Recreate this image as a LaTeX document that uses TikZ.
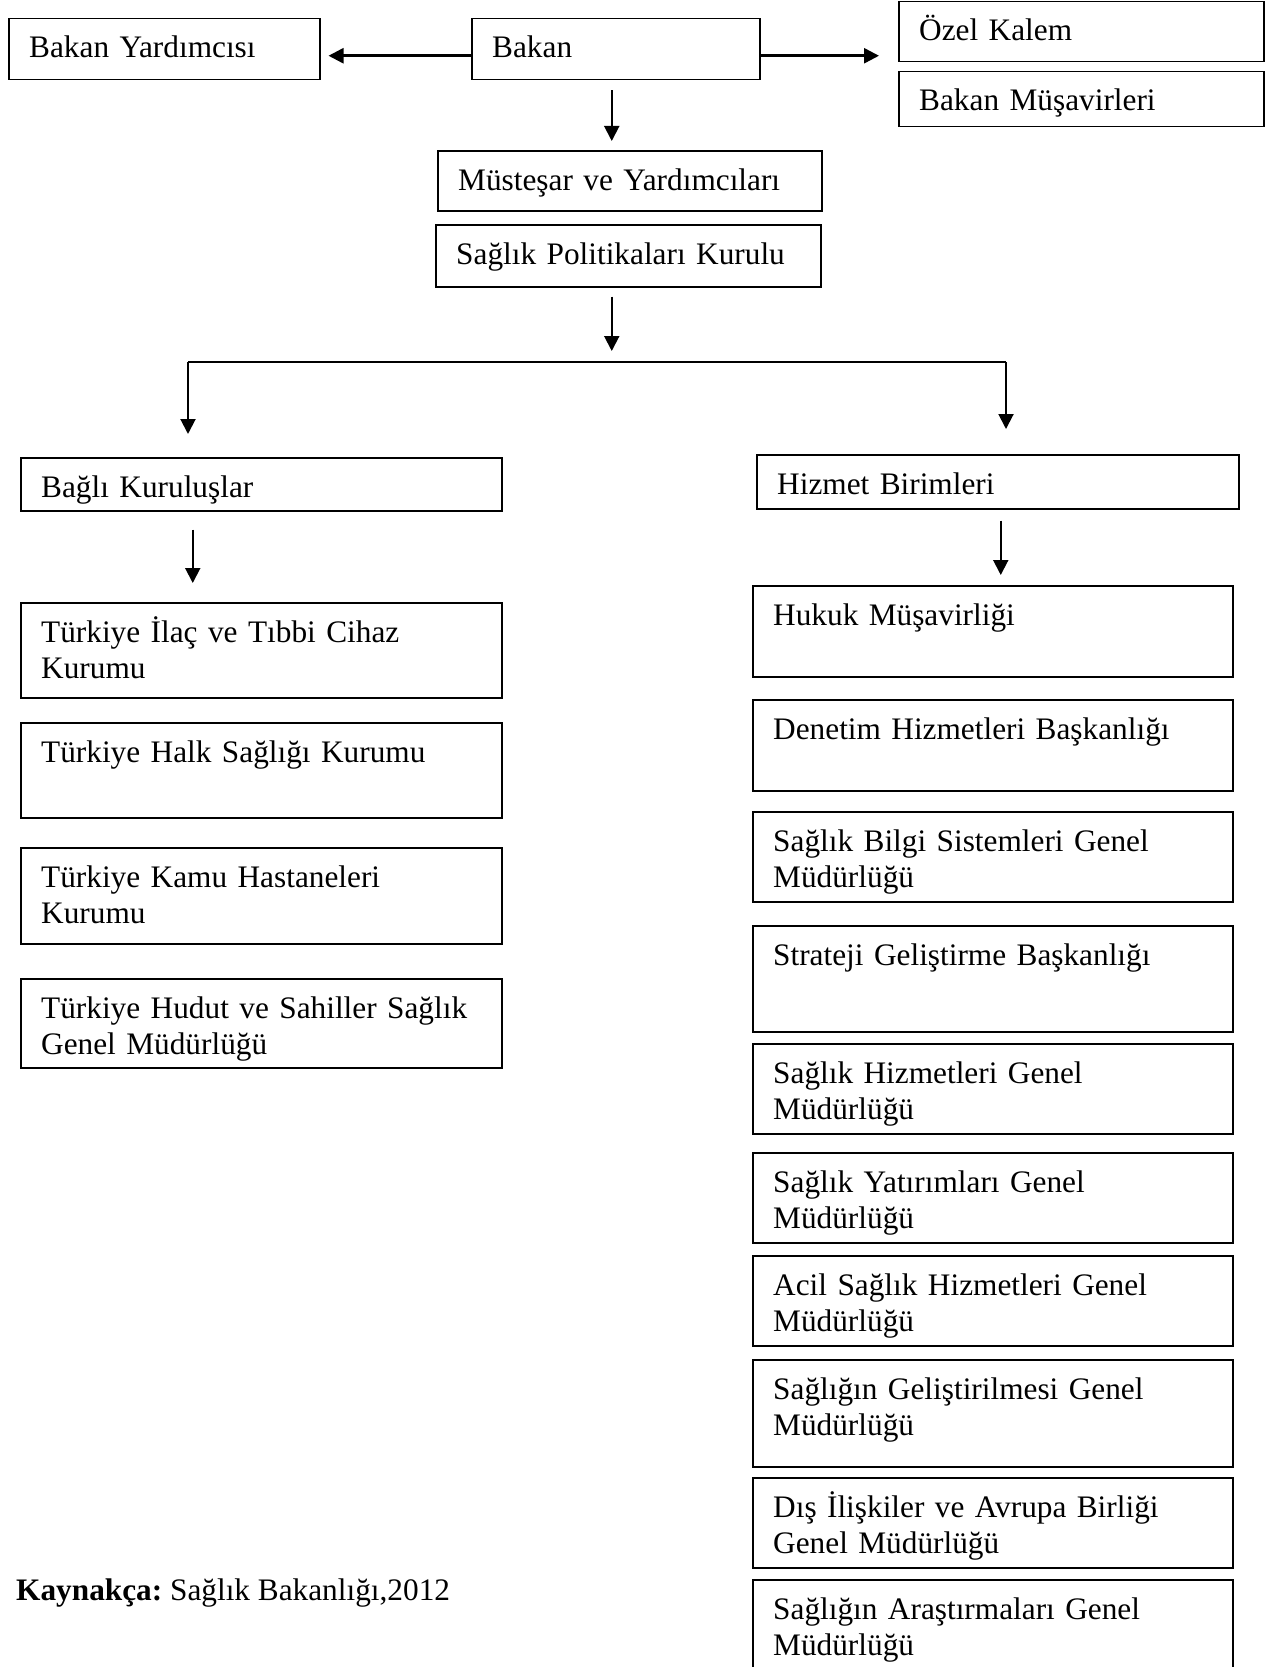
\documentclass[tikz,border=0pt]{standalone}
\usepackage{fontspec}
\setmainfont{Liberation Serif}
\frenchspacing
\usetikzlibrary{arrows.meta}
\tikzset{
  box/.style={draw, line width=1.5pt, inner sep=0pt, anchor=north west},
  txtbase/.style={anchor=base west, inner sep=0pt,
    font=\fontsize{31.3pt}{36pt}\selectfont\frenchspacing},
  txt/.style={txtbase, align=left, text width=455pt},
  varrow/.style={line width=2pt, -{Triangle[length=15pt,width=15pt]}},
  harrow/.style={line width=2.5pt, -{Triangle[length=15pt,width=15pt]}},
  hline/.style={line width=1.5pt},
}
\newcommand\obox[6]{%
  \node[box, minimum width={(#3-#2)*1pt}, minimum height={(#5-#4)*1pt}] (#1) at (#2,#4) {};
  \node[txt] (#1t) at ([xshift=21pt,yshift=-40pt]#1.north west) {#6};
}
\begin{document}
\begin{tikzpicture}[x=1pt,y=-1pt]
\useasboundingbox (0,0) rectangle (1270,1667);
\clip (0,0) rectangle (1270,1667);
% top row
\obox{by}{8}{319}{18}{79}{Bakan Yardımcısı}
\obox{bakan}{471}{759}{18}{79}{Bakan}
\obox{ozel}{898}{1263}{1}{61}{Özel Kalem}
\obox{musav}{898}{1263}{71}{126}{Bakan Müşavirleri}
\obox{must}{437}{821}{150}{210}{Müsteşar ve Yardımcıları}
\obox{spk}{435}{820}{224}{286}{Sağlık Politikaları Kurulu}
% second level
\obox{bagli}{20}{501}{457}{510}{Bağlı Kuruluşlar}
\obox{hizmet}{756}{1238}{454}{508}{Hizmet Birimleri}
% left column
\obox{ilac}{20}{501}{602}{697}{Türkiye İlaç ve Tıbbi Cihaz\\Kurumu}
\obox{halk}{20}{501}{722}{817}{Türkiye Halk Sağlığı Kurumu}
\obox{kamu}{20}{501}{847}{943}{Türkiye Kamu Hastaneleri\\Kurumu}
\obox{hudut}{20}{501}{978}{1067}{Türkiye Hudut ve Sahiller Sağlık\\Genel Müdürlüğü}
% right column
\obox{hukuk}{752}{1232}{585}{676}{Hukuk Müşavirliği}
\obox{denetim}{752}{1232}{699}{790}{Denetim Hizmetleri Başkanlığı}
\obox{bilgi}{752}{1232}{811}{901}{Sağlık Bilgi Sistemleri Genel\\Müdürlüğü}
\obox{strateji}{752}{1232}{925}{1031}{Strateji Geliştirme Başkanlığı}
\obox{shgm}{752}{1232}{1043}{1133}{Sağlık Hizmetleri Genel\\Müdürlüğü}
\obox{yatirim}{752}{1232}{1152}{1242}{Sağlık Yatırımları Genel\\Müdürlüğü}
\obox{acil}{752}{1232}{1255}{1345}{Acil Sağlık Hizmetleri Genel\\Müdürlüğü}
\obox{gelis}{752}{1232}{1359}{1466}{Sağlığın Geliştirilmesi Genel\\Müdürlüğü}
\obox{dis}{752}{1232}{1477}{1567}{Dış İlişkiler ve Avrupa Birliği\\Genel Müdürlüğü}
\obox{aras}{752}{1232}{1579}{1700}{Sağlığın Araştırmaları Genel\\Müdürlüğü}
% source
\node[txtbase] (kaynak) at (16,1600) {\textbf{Kaynakça:} Sağlık Bakanlığı,2012};
% connectors
\coordinate (a1) at ([yshift=-6.5pt]bakan.west);
\draw[harrow, shorten >=8pt] (a1) -- (a1 -| by.east);
\coordinate (a2) at ([yshift=-6.5pt]bakan.east);
\draw[harrow, shorten >=19pt] (a2) -- (a2 -| ozel.west);
\coordinate (d1) at ([xshift=-4pt]bakan.south);
\draw[varrow, shorten <=10pt, shorten >=9pt] (d1) -- (d1 |- must.north);
\coordinate (d2) at ([xshift=-16.5pt]spk.south);
\coordinate (hl) at (188,362);
\coordinate (hr) at (1006,362);
\draw[varrow, shorten <=9pt, shorten >=11pt] (d2) -- (d2 |- hl);
\draw[hline] (hl) -- (hr);
\draw[varrow, shorten >=23pt] (hl) -- (hl |- bagli.north);
\draw[varrow, shorten >=25pt] (hr) -- (hr |- hizmet.north);
\coordinate (d3) at ([xshift=-68.5pt]bagli.south);
\draw[varrow, shorten <=18pt, shorten >=19pt] (d3) -- (d3 |- ilac.north);
\coordinate (d4) at ([xshift=3pt]hizmet.south);
\draw[varrow, shorten <=11pt, shorten >=10pt] (d4) -- (d4 |- hukuk.north);
\end{tikzpicture}
\end{document}
